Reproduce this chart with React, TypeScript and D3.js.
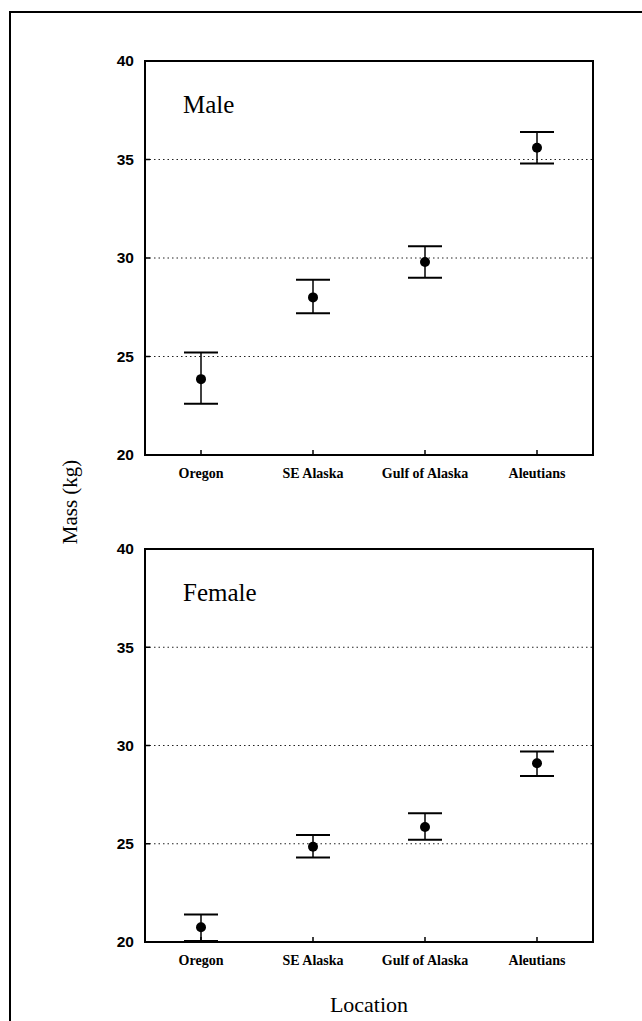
import React from "react";
import * as d3 from "d3";

const categories = ["Oregon", "SE Alaska", "Gulf of Alaska", "Aleutians"];
const yTicks = [20, 25, 30, 35, 40];
const gridValues = [25, 30, 35];

const maleMean = [23.85, 28.0, 29.8, 35.6];
const maleLow = [22.6, 27.2, 29.0, 34.8];
const maleHigh = [25.2, 28.9, 30.6, 36.4];

const femaleMean = [20.75, 24.85, 25.85, 29.1];
const femaleLow = [20.05, 24.3, 25.2, 28.45];
const femaleHigh = [21.4, 25.45, 26.55, 29.7];

const W = 642;
const H = 1021;
const left = 145;
const right = 593;

const panels = [
  { title: "Male", top: 61, bottom: 455, mean: maleMean, low: maleLow, high: maleHigh },
  { title: "Female", top: 549, bottom: 942, mean: femaleMean, low: femaleLow, high: femaleHigh },
];

const serif = "'Liberation Serif', 'Times New Roman', serif";
const sans = "'Liberation Sans', Arial, sans-serif";

function Panel({ p }: { p: (typeof panels)[number] }) {
  const x = d3.scalePoint<string>().domain(categories).range([left, right]).padding(0.5);
  const y = d3.scaleLinear().domain([20, 40]).range([p.bottom, p.top]);
  const cap = 17;
  return (
    <g>
      {gridValues.map((v) => (
        <line key={"g" + v} x1={left} x2={right} y1={y(v)} y2={y(v)} stroke="#222" strokeWidth={1} strokeDasharray="1.5 3" />
      ))}
      <rect x={left} y={p.top} width={right - left} height={p.bottom - p.top} fill="none" stroke="#000" strokeWidth={2} />
      {gridValues.map((v) => (
        <line key={"t" + v} x1={left} x2={left + 5} y1={y(v)} y2={y(v)} stroke="#000" strokeWidth={1.5} />
      ))}
      {categories.map((c) => (
        <line key={"xt" + c} x1={x(c)} x2={x(c)} y1={p.bottom} y2={p.bottom - 5} stroke="#000" strokeWidth={1.5} />
      ))}
      {yTicks.map((v) => (
        <text key={"yl" + v} x={left - 11} y={y(v)} dy="0.35em" textAnchor="end" fontFamily={sans} fontWeight="bold" fontSize={15.5}>
          {v}
        </text>
      ))}
      {categories.map((c) => (
        <text key={"xl" + c} x={x(c)} y={p.bottom + 23} textAnchor="middle" fontFamily={serif} fontWeight="bold" fontSize={14}>
          {c}
        </text>
      ))}
      <text x={183} y={p.top + 52} fontFamily={serif} fontSize={25}>
        {p.title}
      </text>
      {categories.map((c, i) => {
        const cx = x(c) as number;
        return (
          <g key={"e" + c}>
            <line x1={cx} x2={cx} y1={y(p.high[i])} y2={y(p.low[i])} stroke="#000" strokeWidth={1.5} />
            <line x1={cx - cap} x2={cx + cap} y1={y(p.high[i])} y2={y(p.high[i])} stroke="#000" strokeWidth={2} />
            <line x1={cx - cap} x2={cx + cap} y1={y(p.low[i])} y2={y(p.low[i])} stroke="#000" strokeWidth={2} />
            <circle cx={cx} cy={y(p.mean[i])} r={5} fill="#000" />
          </g>
        );
      })}
    </g>
  );
}

export default function App() {
  return (
    <svg width={W} height={H} style={{ position: "absolute", left: 0, top: 0, background: "#fff" }}>
      <rect x={0} y={0} width={W} height={H} fill="#fff" />
      <path d={`M10,${H + 5} L10,12 L${W + 5},12`} fill="none" stroke="#000" strokeWidth={2} />
      {panels.map((p) => (
        <Panel key={p.title} p={p} />
      ))}
      <text transform={`translate(77,${(455 + 549) / 2}) rotate(-90)`} textAnchor="middle" fontFamily={serif} fontSize={21}>
        Mass (kg)
      </text>
      <text x={(left + right) / 2} y={1012} textAnchor="middle" fontFamily={serif} fontSize={22}>
        Location
      </text>
    </svg>
  );
}
